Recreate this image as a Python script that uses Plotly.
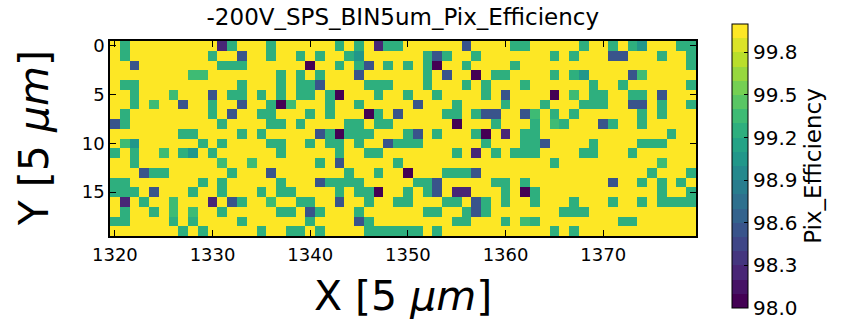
import plotly.graph_objects as go
from plotly.colors import sample_colorscale

x_bins = list(range(1320, 1380))
y_bins = list(range(0, 20))
x_ticks = [1320, 1330, 1340, 1350, 1360, 1370]
y_ticks = [0, 5, 10, 15]
cbar_ticks = [98.0, 98.3, 98.6, 98.9, 99.2, 99.5, 99.8]
z_min, z_max, n_levels = 98.0, 100.0, 20

chart_title = "-200V_SPS_BIN5um_Pix_Efficiency"
x_label = "X [5 <i>μm</i>]"
y_label = "Y [5 <i>μm</i>]"
cbar_label = "Pix_Efficiency"

# Pixel efficiency [%], rows = Y bins 0..19, columns = X bins 1320..1379
efficiency = [
    [100,99.25,100,100,100,100,100,100,100,100, 100,98.25,99.25,100,100,100,99.25,100,100,100, 100,100,100,99.25,100,99.25,100,98.25,99.25,99.25, 100,100,100,100,100,100,98.55,100,100,100, 100,99.25,99.25,100,100,100,100,100,99.25,100, 100,99.25,100,99.25,99.05,100,100,100,99.25,99.25],
    [100,99.25,100,100,100,100,100,100,100,100, 99.25,100,100,98.55,100,100,99.25,100,100,99.25, 100,99.25,100,100,99.25,99.05,100,100,100,100, 100,100,99.25,98.55,99.25,100,100,99.25,100,100, 100,100,100,100,100,99.25,100,99.25,100,100, 100,98.55,98.55,100,100,100,99.25,100,100,99.25],
    [100,100,98.55,100,100,100,100,100,100,100, 100,99.25,99.25,99.25,100,100,100,100,100,100, 98.05,100,100,99.25,100,99.25,98.55,100,99.25,100, 99.25,100,99.25,98.05,100,100,99.25,100,100,100, 100,99.25,100,100,100,100,100,100,100,100, 100,100,100,100,100,100,100,100,100,99.25],
    [100,100,100,100,100,100,100,100,99.35,99.35, 100,100,100,100,100,100,100,99.25,100,99.25, 100,99.25,100,100,100,98.55,100,100,100,100, 100,100,99.25,100,98.55,100,100,98.05,100,99.25, 99.25,100,100,100,100,99.25,100,99.25,99.05,100, 100,100,100,98.55,99.35,100,100,100,100,100],
    [100,99.25,99.25,100,100,100,100,100,100,100, 100,100,100,99.25,100,100,100,99.25,100,99.25, 99.25,98.55,100,100,100,100,99.25,99.25,99.25,100, 100,100,99.25,100,100,100,99.25,100,99.25,100, 100,100,99.25,100,100,100,100,100,100,99.25, 100,100,99.25,100,100,100,100,100,100,99.25],
    [100,100,99.25,100,100,100,99.35,100,100,100, 98.55,100,99.25,99.25,100,99.25,100,99.25,100,99.25, 99.25,100,99.25,98.05,100,100,100,99.25,100,100, 99.25,100,100,99.25,100,100,100,100,99.25,100, 98.55,100,100,100,100,98.05,100,99.35,100,99.25, 99.25,100,100,99.25,99.25,100,98.55,100,100,100],
    [100,100,99.25,100,99.35,100,100,98.55,100,100, 99.25,100,100,98.55,100,100,99.25,98.05,99.35,100, 100,100,99.25,100,100,99.25,100,100,100,100, 100,98.55,100,100,100,99.25,100,100,100,100, 99.25,100,100,100,99.25,100,100,100,99.25,99.25, 99.25,100,100,98.55,98.55,100,99.25,100,100,99.25],
    [100,99.25,100,100,100,100,100,100,100,100, 99.25,100,98.55,100,100,99.25,99.25,100,100,100, 99.25,100,99.25,100,100,100,98.05,99.25,100,98.55, 100,100,100,100,99.25,99.25,100,99.25,98.55,98.55, 100,100,98.55,99.35,100,99.25,100,99.25,100,100, 100,100,100,100,99.25,100,99.25,100,100,100],
    [98.55,99.25,100,100,100,100,100,100,100,100, 100,99.25,100,100,100,100,99.25,99.25,100,99.25, 100,100,100,100,99.25,99.25,100,99.25,99.25,100, 100,100,100,100,100,98.05,100,100,100,99.25, 100,100,100,99.25,100,99.35,99.25,100,100,100, 98.55,99.25,100,100,99.25,100,100,100,100,100],
    [100,100,100,100,100,100,100,99.25,99.25,100, 100,100,100,99.25,100,99.25,100,100,100,100, 100,98.55,99.25,98.05,99.25,99.25,99.25,100,100,100, 99.25,98.55,100,99.25,100,100,100,99.25,98.05,100, 98.25,100,99.25,99.25,100,100,100,100,100,100, 100,100,100,100,100,100,100,99.25,100,100],
    [100,99.35,99.05,100,100,100,100,100,100,99.25, 100,99.25,100,100,100,100,99.25,99.25,100,100, 99.25,100,99.25,99.25,100,99.25,100,100,98.55,99.25, 99.25,99.25,100,100,100,100,100,100,99.25,100, 100,100,99.25,99.25,98.55,100,100,100,100,99.25, 100,100,100,100,99.25,99.25,99.25,100,100,100],
    [99.25,100,99.25,100,100,99.35,100,99.25,99.05,100, 99.25,100,100,100,100,100,100,99.25,100,100, 100,100,100,99.25,100,100,99.25,99.25,100,100, 100,100,100,100,100,99.25,100,98.25,100,99.25, 100,99.25,99.25,99.25,100,100,100,100,99.25,99.25, 100,100,100,99.25,100,100,100,100,100,100],
    [100,100,99.25,100,100,100,100,100,100,100, 100,99.35,100,100,99.35,100,100,100,100,100, 100,99.25,100,98.55,100,100,100,100,100,99.25, 100,100,100,100,100,100,100,100,100,100, 100,100,100,100,100,99.25,100,100,100,100, 100,100,100,100,100,100,99.35,100,100,100],
    [100,100,100,98.55,99.25,99.25,100,100,100,100, 100,100,99.25,100,100,100,98.55,100,100,100, 100,100,100,100,99.25,100,100,99.25,100,100, 98.05,100,100,100,99.25,99.25,99.25,98.55,100,100, 100,100,100,100,100,100,100,100,100,100, 100,100,100,100,100,99.25,100,100,100,99.25],
    [99.25,99.25,100,100,100,100,100,100,100,99.25, 100,99.25,100,100,100,100,100,99.25,100,100, 100,98.55,99.25,99.25,99.25,99.25,100,100,100,100, 100,99.25,99.25,98.55,100,100,100,100,100,99.25, 99.25,100,99.25,100,100,100,100,100,100,100, 100,98.55,100,100,99.25,100,99.25,100,99.25,100],
    [99.25,99.25,99.25,100,98.55,100,100,100,99.25,100, 100,99.25,100,100,100,99.25,100,99.25,99.25,100, 100,100,100,99.25,100,99.25,99.25,98.05,100,100, 99.25,100,99.25,98.55,100,98.25,98.25,100,100,100, 99.25,100,98.05,99.25,100,100,100,100,100,100, 100,100,100,100,100,100,99.25,100,100,99.25],
    [100,98.25,100,99.25,100,100,99.35,100,100,100, 98.25,100,98.55,99.25,100,100,99.35,100,100,99.25, 99.25,100,100,98.55,100,100,99.25,100,100,99.25, 99.25,100,100,100,99.25,99.25,100,98.55,99.25,100, 99.25,100,100,99.25,100,100,100,99.25,100,100, 100,99.25,100,100,99.25,100,99.25,99.25,99.25,99.25],
    [100,99.25,100,100,99.25,100,99.35,100,99.35,100, 100,99.25,100,100,100,100,100,99.25,99.25,100, 98.55,99.25,100,100,100,99.25,100,100,100,100, 100,100,99.25,99.25,100,100,99.25,98.55,99.25,100, 100,100,100,100,100,100,99.25,99.25,99.25,100, 100,100,100,100,100,100,100,100,100,100],
    [99.25,99.25,100,100,100,100,99.25,100,99.25,100, 100,100,100,99.25,100,100,100,100,100,100, 99.25,100,100,100,100,98.55,99.25,100,100,100, 100,100,100,100,100,99.25,99.25,100,100,100, 99.25,100,99.35,99.25,100,100,100,100,100,100, 100,100,99.25,99.25,100,100,100,100,100,100],
    [100,100,100,100,100,100,100,99.25,100,99.25, 100,100,100,100,100,99.25,100,100,99.25,99.25, 100,99.25,100,100,100,100,99.25,99.25,99.25,99.25, 99.25,99.25,100,99.25,100,100,100,100,100,100, 100,100,100,100,100,99.25,100,99.25,100,100, 100,100,100,100,100,100,100,100,100,100],
]

band_colors = sample_colorscale("Viridis", [i / (n_levels - 1) for i in range(n_levels)])
colorscale = []
for i, c in enumerate(band_colors):
    colorscale.append([i / n_levels, c])
    colorscale.append([(i + 1) / n_levels, c])

FONT = "DejaVu Sans"

fig = go.Figure(go.Heatmap(
    z=efficiency, x=x_bins, y=y_bins,
    zmin=z_min - 0.0005, zmax=z_max, colorscale=colorscale,
    colorbar=dict(
        x=1.0614, xanchor="left", y=0.359, yanchor="middle",
        thickness=16, len=284, lenmode="pixels",
        outlinewidth=1, outlinecolor="black",
        tickvals=cbar_ticks, ticktext=[f"{v:.1f}" for v in cbar_ticks],
        ticks="inside", ticklen=4, tickcolor="black",
        ticklabeloverflow="allow",
        tickfont=dict(family=FONT, size=20, color="black"),
        title=dict(text=cbar_label, side="right", font=dict(family=FONT, size=23, color="black")),
        xpad=0, ypad=0,
    ),
))

fig.update_layout(
    width=841, height=322,
    margin=dict(l=110, r=145, t=41, b=86),
    paper_bgcolor="white", plot_bgcolor="white",
    font=dict(family=FONT, color="black"),
    title=dict(text=chart_title, x=0.479, xanchor="center", y=0.947, yanchor="middle",
               font=dict(family=FONT, size=23, color="black")),
    annotations=[
        dict(text=x_label, xref="paper", yref="paper", x=0.5, y=-0.31,
             xanchor="center", yanchor="middle", showarrow=False,
             font=dict(family=FONT, size=41, color="black")),
        dict(text=y_label, xref="paper", yref="paper", x=-0.13, y=0.5,
             xanchor="center", yanchor="middle", textangle=-90, showarrow=False,
             font=dict(family=FONT, size=41, color="black")),
    ],
)

fig.update_xaxes(range=[1319.5, 1379.5], tickvals=x_ticks, ticks="inside", ticklen=6,
                 tickcolor="black", showline=True, linecolor="black", linewidth=1.5,
                 mirror="allticks", showgrid=False, zeroline=False, ticklabelstandoff=2,
                 tickfont=dict(family=FONT, size=18, color="black"))
fig.update_yaxes(range=[19.5, -0.5], tickvals=y_ticks, ticks="inside", ticklen=6,
                 tickcolor="black", showline=True, linecolor="black", linewidth=1.5,
                 mirror="allticks", showgrid=False, zeroline=False,
                 tickfont=dict(family=FONT, size=18, color="black"))

fig.write_html("out.html")
